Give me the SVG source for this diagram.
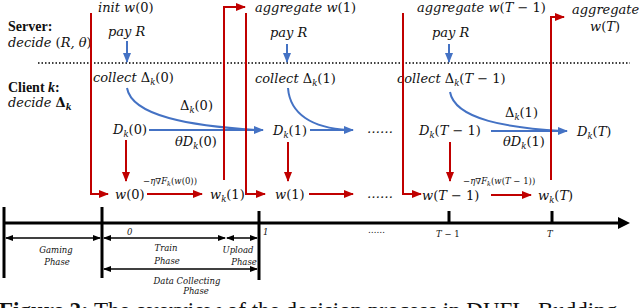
<svg xmlns="http://www.w3.org/2000/svg" width="640" height="308" viewBox="0 0 640 308">
<style>
.m{font-family:"DejaVu Serif","Liberation Serif",serif;font-style:italic;font-size:13px;fill:#111}
.u{font-style:normal}
.sb{font-size:8.5px}
.sm{font-family:"DejaVu Serif","Liberation Serif",serif;font-style:italic;font-size:8.5px;fill:#111}
.ph{font-family:"DejaVu Serif","Liberation Serif",serif;font-style:italic;font-size:8.5px;fill:#111}
.b{font-family:"Liberation Serif",serif;font-weight:bold;font-size:14px;fill:#111}
.red{stroke:#C00000;stroke-width:2;fill:none}
.blue{stroke:#4472C4;stroke-width:2;fill:none}
.blk{stroke:#000;stroke-width:1.5;fill:none}
.thick{stroke:#000;stroke-width:3;fill:none}
</style>
<defs>
<marker id="ar" markerUnits="userSpaceOnUse" markerWidth="10" markerHeight="10" refX="9" refY="5" orient="auto"><path d="M0,1 L10,5 L0,9 Z" fill="#C00000"/></marker>
<marker id="ab" markerUnits="userSpaceOnUse" markerWidth="10" markerHeight="10" refX="9" refY="5" orient="auto"><path d="M0,1 L10,5 L0,9 Z" fill="#4472C4"/></marker>
<marker id="ak" markerUnits="userSpaceOnUse" markerWidth="8" markerHeight="8" refX="7" refY="4" orient="auto-start-reverse"><path d="M0,1 L8,4 L0,7 Z" fill="#000"/></marker>
<marker id="ak2" markerUnits="userSpaceOnUse" markerWidth="14" markerHeight="14" refX="2" refY="7" orient="auto"><path d="M0,1 L12,7 L0,13 Z" fill="#000"/></marker>
</defs>

<g id="labels-left">
<text class="b" x="8" y="31">Server:</text>
<text class="m" x="8" y="47">decide <tspan class="u">(</tspan>R, θ<tspan class="u">)</tspan></text>
<text class="b" x="8" y="92">Client <tspan font-style="italic">k</tspan>:</text>
<text class="m" x="8" y="107">decide <tspan class="u" font-weight="bold">Δ</tspan><tspan class="sb" font-weight="bold" dy="3">k</tspan></text>
</g>

<line id="divider" x1="38" y1="63" x2="630" y2="63" stroke="#000" stroke-width="1.3" stroke-dasharray="1.5,2"/>

<g id="server">
<text class="m" x="98" y="12">init  w<tspan class="u">(0)</tspan></text>
<text class="m" x="108" y="36">pay R</text>
<text class="m" x="255" y="12">aggregate  w<tspan class="u">(1)</tspan></text>
<text class="m" x="270" y="37">pay R</text>
<text class="m" x="417" y="12">aggregate  w<tspan class="u">(</tspan>T <tspan class="u">− 1)</tspan></text>
<text class="m" x="432" y="37">pay R</text>
<text class="m" x="572" y="14">aggregate</text>
<text class="m" x="590" y="31">w<tspan class="u">(</tspan>T<tspan class="u">)</tspan></text>
</g>

<g id="client">
<text class="m" x="93" y="82">collect <tspan class="u">Δ</tspan><tspan class="sb" dy="3">k</tspan><tspan class="u" dy="-3">(0)</tspan></text>
<text class="m" x="255" y="83">collect <tspan class="u">Δ</tspan><tspan class="sb" dy="3">k</tspan><tspan class="u" dy="-3">(1)</tspan></text>
<text class="m" x="397" y="83">collect <tspan class="u">Δ</tspan><tspan class="sb" dy="3">k</tspan><tspan class="u" dy="-3">(</tspan>T<tspan class="u"> − 1)</tspan></text>

<text class="m" x="113" y="134">D<tspan class="sb" dy="3">k</tspan><tspan class="u" dy="-3">(0)</tspan></text>
<text class="m" x="273" y="135">D<tspan class="sb" dy="3">k</tspan><tspan class="u" dy="-3">(1)</tspan></text>
<text class="m" x="419" y="135">D<tspan class="sb" dy="3">k</tspan><tspan class="u" dy="-3">(</tspan>T<tspan class="u"> − 1)</tspan></text>
<text class="m" x="577" y="136">D<tspan class="sb" dy="3">k</tspan><tspan class="u" dy="-3">(</tspan>T<tspan class="u">)</tspan></text>

<text class="m" x="180" y="110"><tspan class="u">Δ</tspan><tspan class="sb" dy="3">k</tspan><tspan class="u" dy="-3">(0)</tspan></text>
<text class="m" x="175" y="146">θD<tspan class="sb" dy="3">k</tspan><tspan class="u" dy="-3">(0)</tspan></text>
<text class="m" x="505" y="117"><tspan class="u">Δ</tspan><tspan class="sb" dy="3">k</tspan><tspan class="u" dy="-3">(1)</tspan></text>
<text class="m" x="503" y="146">θD<tspan class="sb" dy="3">k</tspan><tspan class="u" dy="-3">(1)</tspan></text>

<text class="m" x="367" y="133">……</text>
<text class="m" x="367" y="198">……</text>

<text class="m" x="115" y="199">w<tspan class="u">(0)</tspan></text>
<text class="m" x="210" y="199">w<tspan class="sb" dy="3">k</tspan><tspan class="u" dy="-3">(1)</tspan></text>
<text class="m" x="275" y="199">w<tspan class="u">(1)</tspan></text>
<text class="m" x="422" y="200">w<tspan class="u">(</tspan>T<tspan class="u"> − 1)</tspan></text>
<text class="m" x="538" y="200">w<tspan class="sb" dy="3">k</tspan><tspan class="u" dy="-3">(</tspan>T<tspan class="u">)</tspan></text>

<text class="sm" x="143" y="184"><tspan class="u">−</tspan>η<tspan class="u">∇</tspan>F<tspan font-size="6.5" dy="2">k</tspan><tspan class="u" dy="-2">(</tspan>w<tspan class="u">(0))</tspan></text>
<text class="sm" x="463" y="184"><tspan class="u">−</tspan>η<tspan class="u">∇</tspan>F<tspan font-size="6.5" dy="2">k</tspan><tspan class="u" dy="-2">(</tspan>w<tspan class="u">(</tspan>T<tspan class="u"> − 1))</tspan></text>
</g>

<g id="connectors">
<line class="blue" x1="127" y1="41" x2="127" y2="62" marker-end="url(#ab)"/>
<line class="blue" x1="287" y1="44" x2="287" y2="62" marker-end="url(#ab)"/>
<line class="blue" x1="449" y1="44" x2="449" y2="62" marker-end="url(#ab)"/>
<path class="blue" d="M127,88 C132,116 190,126 258,130"/>
<line class="blue" x1="149" y1="130" x2="263" y2="130" marker-end="url(#ab)"/>
<path class="blue" d="M288,88 C290,114 312,128 348,130"/>
<line class="blue" x1="310" y1="130" x2="353" y2="130" marker-end="url(#ab)"/>
<path class="blue" d="M450,92 C455,120 510,128 562,131"/>
<line class="blue" x1="491" y1="131" x2="567" y2="131" marker-end="url(#ab)"/>
<line class="red" x1="126" y1="140" x2="126" y2="181" marker-end="url(#ar)"/>
<line class="red" x1="288" y1="142" x2="288" y2="181" marker-end="url(#ar)"/>
<line class="red" x1="450" y1="142" x2="450" y2="181" marker-end="url(#ar)"/>
<line class="red" x1="147" y1="194" x2="202" y2="194" marker-end="url(#ar)"/>
<line class="red" x1="309" y1="194" x2="353" y2="194" marker-end="url(#ar)"/>
<line class="red" x1="491" y1="195" x2="531" y2="195" marker-end="url(#ar)"/>
<path class="red" d="M91,13 V194 H108" marker-end="url(#ar)"/>
<path class="red" d="M224,180 V7 H245" marker-end="url(#ar)"/>
<path class="red" d="M246,13 V194 H265" marker-end="url(#ar)"/>
<path class="red" d="M403,13 V194 H421" marker-end="url(#ar)"/>
<path class="red" d="M551,180 V17 H564" marker-end="url(#ar)"/>
</g>

<g id="timeline">
<line class="thick" x1="3" y1="223" x2="620" y2="223" marker-end="url(#ak2)"/>
<line class="thick" x1="4" y1="207" x2="4" y2="278"/>
<line class="thick" x1="102" y1="207" x2="102" y2="278"/>
<line class="thick" x1="259" y1="211" x2="259" y2="280"/>
<line class="thick" x1="449" y1="211" x2="449" y2="223"/>
<line class="thick" x1="552" y1="211" x2="552" y2="223"/>
<text class="ph" x="127" y="235" font-style="normal" font-size="10">0</text>
<text class="ph" x="263" y="235" font-style="normal" font-size="10">1</text>
<text class="ph" x="368" y="233" font-style="normal" font-size="10">……</text>
<text class="ph" x="436" y="237" font-size="10">T <tspan class="u">− 1</tspan></text>
<text class="ph" x="547" y="237" font-size="10">T</text>

<line class="blk" x1="6" y1="238" x2="100" y2="238" marker-start="url(#ak)" marker-end="url(#ak)"/>
<line class="blk" x1="104" y1="238" x2="225" y2="238" marker-start="url(#ak)" marker-end="url(#ak)"/>
<line class="blk" x1="227" y1="238" x2="257" y2="238" marker-start="url(#ak)" marker-end="url(#ak)"/>
<line class="blk" x1="104" y1="269" x2="257" y2="269" marker-start="url(#ak)" marker-end="url(#ak)"/>
<text class="ph" x="56" y="253" text-anchor="middle">Gaming</text>
<text class="ph" x="57" y="265" text-anchor="middle">Phase</text>
<text class="ph" x="166" y="251" text-anchor="middle">Train</text>
<text class="ph" x="167" y="264" text-anchor="middle">Phase</text>
<text class="ph" x="238" y="253" text-anchor="middle">Upload</text>
<text class="ph" x="244" y="265" text-anchor="middle">Phase</text>
<text class="ph" x="187" y="284" text-anchor="middle">Data Collecting</text>
<text class="ph" x="196" y="294" text-anchor="middle">Phase</text>
</g>

<text id="caption" x="-1" y="318" font-family="Liberation Serif, serif" font-size="23" fill="#111"><tspan font-weight="bold">Figure 2:</tspan> The overview of the decision process in DUFL. Budding</text>
</svg>
